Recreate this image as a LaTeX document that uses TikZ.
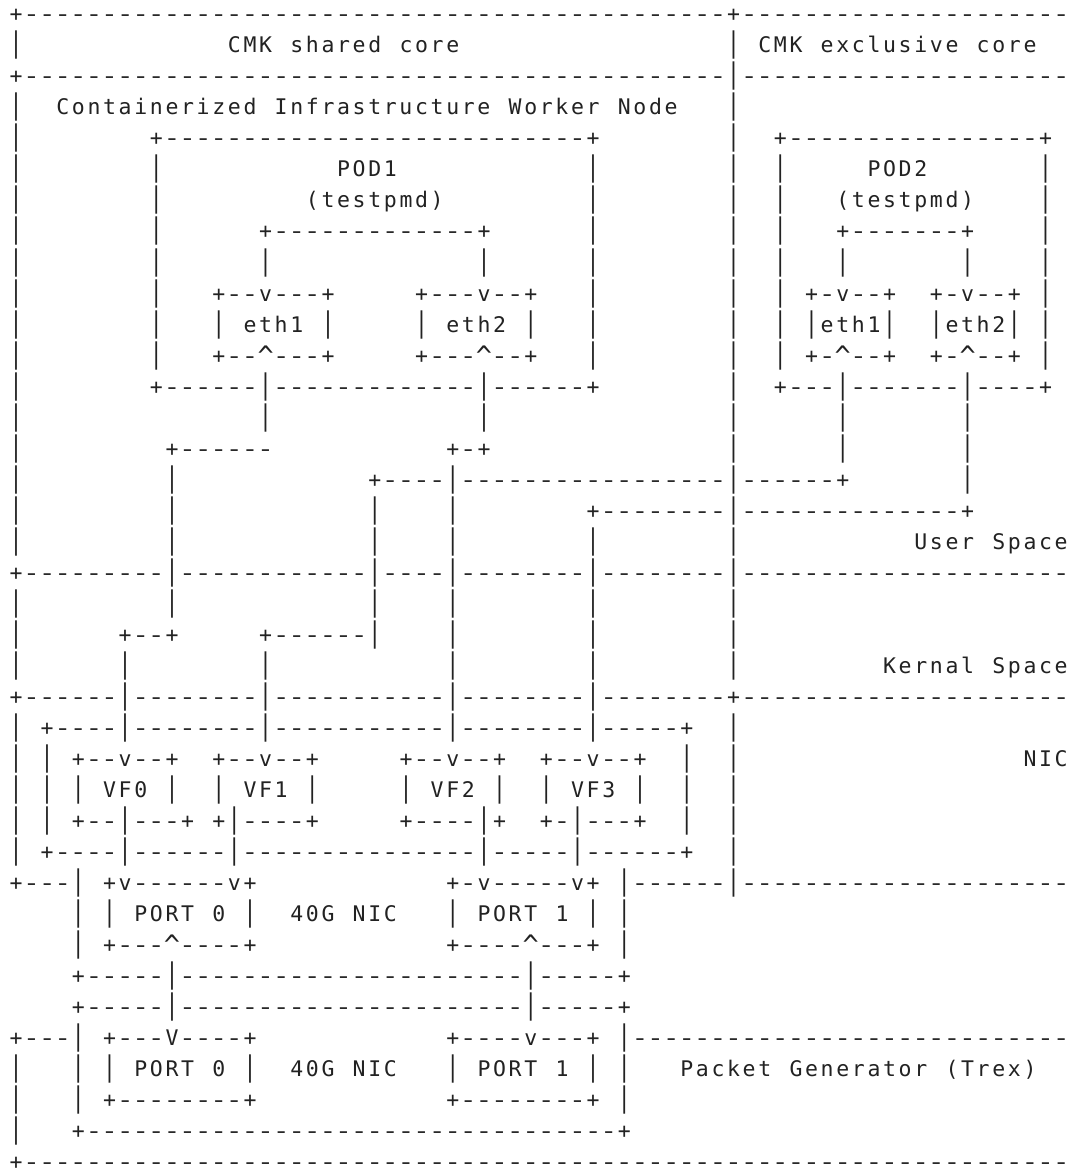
\documentclass[tikz,border=0pt]{standalone}
\usepackage{fontspec}
\usepackage{graphicx}
\newfontfamily\asciifont{DejaVu Sans Mono}
\definecolor{ink}{HTML}{222222}

% one fixed-width cell per character: '.' is a blank cell, '*' a caret
\newlength\cellw
\setlength\cellw{15.6pt}
\newcount\dashleft
\makeatletter
\def\cellstop{\cellstop}
\newcommand\cells[1]{\cells@#1\cellstop}
\def\cells@#1{\ifx#1\cellstop\else\cellone#1\expandafter\cells@\fi}
\def\cellone#1{\makebox[\cellw][c]{\cellglyph#1}}
\def\cellglyph#1{%
  \ifx#1.\relax\else
  \ifx#1*\raisebox{-2.6pt}{\scalebox{1.25}{\textasciicircum}}\else
  \ifx#1|\scalebox{1}[1.32]{|}\else
  \ifx#1-\scalebox{1.3}[1]{-}\else
  #1\fi\fi\fi\fi}
\newcommand\dashrun[1]{%
  \dashleft=#1\relax
  \loop\ifnum\dashleft>\z@\cellone-\advance\dashleft\m@ne\repeat}
\makeatother

\tikzset{ascii/.style={anchor=base west, inner sep=0pt, outer sep=0pt,
  font=\asciifont\fontsize{21.5pt}{24pt}\selectfont, text=ink}}

% text starting at column #2 of row #1
\newcommand\txt[3]{\node[ascii] (r#1c#2) at ({8.2pt+15.6pt*#2},{-22pt-31pt*(#1-1)}) {\cells{#3}};}
% a run of dashes on row #1 from column #2 to column #3
\newcommand\run[3]{\node[ascii] (r#1d#2) at ({8.2pt+15.6pt*#2},{-22pt-31pt*(#1-1)}) {\dashrun{\numexpr#3-#2+1\relax}};}

\begin{document}
\begin{tikzpicture}
\useasboundingbox (0,0) rectangle (1076pt,-1174pt);
\fill[white] (0,0) rectangle (1076pt,-1174pt);
\clip (0,0) rectangle (1076pt,-1174pt);

% CPU manager core split
\txt{1}{0}{+}\run{1}{1}{45}\txt{1}{46}{+}\run{1}{47}{67}
\txt{2}{0}{|}\txt{2}{14}{CMK.shared.core}\txt{2}{46}{|}\txt{2}{48}{CMK.exclusive.core}
\txt{3}{0}{+}\run{3}{1}{45}\txt{3}{46}{|}\run{3}{47}{67}
\txt{4}{0}{|}\txt{4}{3}{Containerized.Infrastructure.Worker.Node}\txt{4}{46}{|}

% POD1 and POD2
\txt{5}{0}{|}\txt{5}{9}{+}\run{5}{10}{36}\txt{5}{37}{+}\txt{5}{46}{|}\txt{5}{49}{+}\run{5}{50}{65}\txt{5}{66}{+}
\txt{6}{0}{|}\txt{6}{9}{|}\txt{6}{21}{POD1}\txt{6}{37}{|}\txt{6}{46}{|}\txt{6}{49}{|}\txt{6}{55}{POD2}\txt{6}{66}{|}
\txt{7}{0}{|}\txt{7}{9}{|}\txt{7}{19}{(testpmd)}\txt{7}{37}{|}\txt{7}{46}{|}\txt{7}{49}{|}\txt{7}{53}{(testpmd)}\txt{7}{66}{|}
\txt{8}{0}{|}\txt{8}{9}{|}\txt{8}{16}{+}\run{8}{17}{29}\txt{8}{30}{+}\txt{8}{37}{|}\txt{8}{46}{|}\txt{8}{49}{|}\txt{8}{53}{+}\run{8}{54}{60}\txt{8}{61}{+}\txt{8}{66}{|}
\txt{9}{0}{|}\txt{9}{9}{|}\txt{9}{16}{|}\txt{9}{30}{|}\txt{9}{37}{|}\txt{9}{46}{|}\txt{9}{49}{|}\txt{9}{53}{|}\txt{9}{61}{|}\txt{9}{66}{|}
\txt{10}{0}{|}\txt{10}{9}{|}\txt{10}{13}{+--v---+}\txt{10}{26}{+---v--+}\txt{10}{37}{|}\txt{10}{46}{|}\txt{10}{49}{|}\txt{10}{51}{+-v--+}\txt{10}{59}{+-v--+}\txt{10}{66}{|}
\txt{11}{0}{|}\txt{11}{9}{|}\txt{11}{13}{|.eth1.|}\txt{11}{26}{|.eth2.|}\txt{11}{37}{|}\txt{11}{46}{|}\txt{11}{49}{|}\txt{11}{51}{|eth1|}\txt{11}{59}{|eth2|}\txt{11}{66}{|}
\txt{12}{0}{|}\txt{12}{9}{|}\txt{12}{13}{+--*---+}\txt{12}{26}{+---*--+}\txt{12}{37}{|}\txt{12}{46}{|}\txt{12}{49}{|}\txt{12}{51}{+-*--+}\txt{12}{59}{+-*--+}\txt{12}{66}{|}
\txt{13}{0}{|}\txt{13}{9}{+------|-------------|------+}\txt{13}{46}{|}\txt{13}{49}{+---|-------|----+}
\txt{14}{0}{|}\txt{14}{16}{|}\txt{14}{30}{|}\txt{14}{46}{|}\txt{14}{53}{|}\txt{14}{61}{|}
\txt{15}{0}{|}\txt{15}{10}{+------}\txt{15}{28}{+-+}\txt{15}{46}{|}\txt{15}{53}{|}\txt{15}{61}{|}
\txt{16}{0}{|}\txt{16}{10}{|}\txt{16}{23}{+----|}\run{16}{29}{45}\txt{16}{46}{|}\txt{16}{47}{------+}\txt{16}{61}{|}
\txt{17}{0}{|}\txt{17}{10}{|}\txt{17}{23}{|}\txt{17}{28}{|}\txt{17}{37}{+--------|}\txt{17}{47}{--------------+}
\txt{18}{0}{|}\txt{18}{10}{|}\txt{18}{23}{|}\txt{18}{28}{|}\txt{18}{37}{|}\txt{18}{46}{|}\txt{18}{58}{User.Space}

% user space / kernel space boundary
\txt{19}{0}{+}\run{19}{1}{9}\txt{19}{10}{|}\run{19}{11}{22}\txt{19}{23}{|}\run{19}{24}{27}\txt{19}{28}{|}\run{19}{29}{36}\txt{19}{37}{|}\run{19}{38}{45}\txt{19}{46}{|}\run{19}{47}{67}
\txt{20}{0}{|}\txt{20}{10}{|}\txt{20}{23}{|}\txt{20}{28}{|}\txt{20}{37}{|}\txt{20}{46}{|}
\txt{21}{0}{|}\txt{21}{7}{+--+}\txt{21}{16}{+------|}\txt{21}{28}{|}\txt{21}{37}{|}\txt{21}{46}{|}
\txt{22}{0}{|}\txt{22}{7}{|}\txt{22}{16}{|}\txt{22}{28}{|}\txt{22}{37}{|}\txt{22}{46}{|}\txt{22}{56}{Kernal.Space}

% NIC with virtual functions
\txt{23}{0}{+}\run{23}{1}{6}\txt{23}{7}{|}\run{23}{8}{15}\txt{23}{16}{|}\run{23}{17}{27}\txt{23}{28}{|}\run{23}{29}{36}\txt{23}{37}{|}\run{23}{38}{45}\txt{23}{46}{+}\run{23}{47}{67}
\txt{24}{0}{|}\txt{24}{2}{+}\run{24}{3}{6}\txt{24}{7}{|}\run{24}{8}{15}\txt{24}{16}{|}\run{24}{17}{27}\txt{24}{28}{|}\run{24}{29}{36}\txt{24}{37}{|}\run{24}{38}{42}\txt{24}{43}{+}\txt{24}{46}{|}
\txt{25}{0}{|}\txt{25}{2}{|}\txt{25}{4}{+--v--+}\txt{25}{13}{+--v--+}\txt{25}{25}{+--v--+}\txt{25}{34}{+--v--+}\txt{25}{43}{|}\txt{25}{46}{|}\txt{25}{65}{NIC}
\txt{26}{0}{|}\txt{26}{2}{|}\txt{26}{4}{|.VF0.|}\txt{26}{13}{|.VF1.|}\txt{26}{25}{|.VF2.|}\txt{26}{34}{|.VF3.|}\txt{26}{43}{|}\txt{26}{46}{|}
\txt{27}{0}{|}\txt{27}{2}{|}\txt{27}{4}{+--|---+}\txt{27}{13}{+|----+}\txt{27}{25}{+----|+}\txt{27}{34}{+-|---+}\txt{27}{43}{|}\txt{27}{46}{|}
\txt{28}{0}{|}\txt{28}{2}{+}\run{28}{3}{6}\txt{28}{7}{|}\run{28}{8}{13}\txt{28}{14}{|}\run{28}{15}{29}\txt{28}{30}{|}\run{28}{31}{35}\txt{28}{36}{|}\run{28}{37}{42}\txt{28}{43}{+}\txt{28}{46}{|}
\txt{29}{0}{+---|}\txt{29}{6}{+v------v+}\txt{29}{28}{+-v-----v+}\txt{29}{39}{|------|}\run{29}{47}{67}
\txt{30}{4}{|}\txt{30}{6}{|}\txt{30}{8}{PORT.0}\txt{30}{15}{|}\txt{30}{18}{40G.NIC}\txt{30}{28}{|}\txt{30}{30}{PORT.1}\txt{30}{37}{|}\txt{30}{39}{|}
\txt{31}{4}{|}\txt{31}{6}{+---*----+}\txt{31}{28}{+----*---+}\txt{31}{39}{|}

% cabling between the NICs
\txt{32}{4}{+}\run{32}{5}{9}\txt{32}{10}{|}\run{32}{11}{32}\txt{32}{33}{|}\run{32}{34}{38}\txt{32}{39}{+}
\txt{33}{4}{+}\run{33}{5}{9}\txt{33}{10}{|}\run{33}{11}{32}\txt{33}{33}{|}\run{33}{34}{38}\txt{33}{39}{+}

% packet generator
\txt{34}{0}{+---|}\txt{34}{6}{+---V----+}\txt{34}{28}{+----v---+}\txt{34}{39}{|}\run{34}{40}{67}
\txt{35}{0}{|}\txt{35}{4}{|}\txt{35}{6}{|}\txt{35}{8}{PORT.0}\txt{35}{15}{|}\txt{35}{18}{40G.NIC}\txt{35}{28}{|}\txt{35}{30}{PORT.1}\txt{35}{37}{|}\txt{35}{39}{|}\txt{35}{43}{Packet.Generator.(Trex)}
\txt{36}{0}{|}\txt{36}{4}{|}\txt{36}{6}{+--------+}\txt{36}{28}{+--------+}\txt{36}{39}{|}
\txt{37}{0}{|}\txt{37}{4}{+}\run{37}{5}{38}\txt{37}{39}{+}
\txt{38}{0}{+}\run{38}{1}{67}
\end{tikzpicture}
\end{document}
